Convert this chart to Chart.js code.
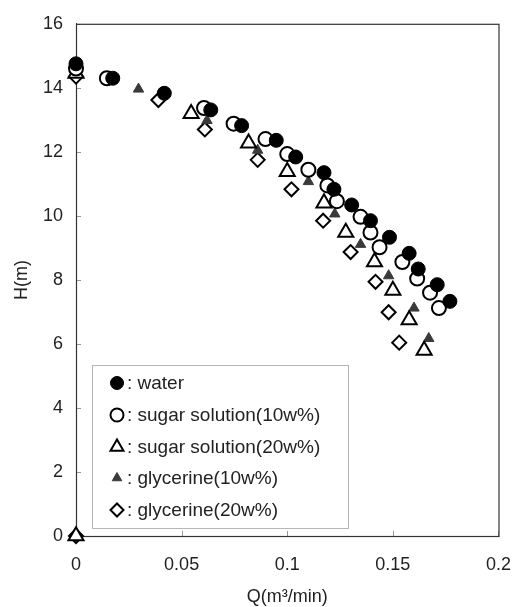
<!DOCTYPE html>
<html>
<head>
<meta charset="utf-8">
<script src="https://cdn.jsdelivr.net/npm/chart.js@4/dist/chart.umd.min.js"></script>
<style>
  html, body { margin: 0; padding: 0; background: #fff; }
  #wrap { width: 529px; height: 607px; position: relative; }
</style>
</head>
<body>
<div id="wrap"><canvas id="c" width="529" height="607"></canvas></div>
<script>
// ---- data ----
const seriesNames = [": water", ": sugar solution(10w%)", ": sugar solution(20w%)", ": glycerine(10w%)", ": glycerine(20w%)"];

const waterQ = [0, 0.0174, 0.0418, 0.0638, 0.0784, 0.0948, 0.104, 0.1174, 0.1221, 0.1305, 0.1394, 0.1484, 0.1577, 0.162, 0.171, 0.177];
const waterH = [14.75, 14.3, 13.83, 13.31, 12.82, 12.36, 11.84, 11.35, 10.83, 10.34, 9.85, 9.33, 8.83, 8.34, 7.85, 7.33];

const sugar10Q = [0, 0.0146, 0.0606, 0.0746, 0.0897, 0.1, 0.110, 0.119, 0.1235, 0.1347, 0.1394, 0.1437, 0.1545, 0.1615, 0.1676, 0.1718];
const sugar10H = [14.6, 14.3, 13.37, 12.88, 12.4, 11.93, 11.44, 10.95, 10.46, 9.97, 9.48, 9.02, 8.56, 8.04, 7.6, 7.12];

const sugar20Q = [0, 0, 0.0545, 0.0817, 0.1, 0.1174, 0.1277, 0.1413, 0.150, 0.1577, 0.1648];
const sugar20H = [0, 14.45, 13.19, 12.27, 11.38, 10.4, 9.48, 8.56, 7.67, 6.75, 5.8];

const glyc10Q = [0, 0, 0.0296, 0.062, 0.086, 0.110, 0.1225, 0.1347, 0.148, 0.160, 0.167];
const glyc10H = [0, 14.5, 13.96, 12.98, 12.05, 11.07, 10.06, 9.11, 8.13, 7.12, 6.17];

const glyc20Q = [0, 0, 0.039, 0.061, 0.086, 0.102, 0.117, 0.130, 0.1418, 0.148, 0.153];
const glyc20H = [0, 14.35, 13.62, 12.7, 11.75, 10.83, 9.85, 8.87, 7.94, 6.99, 6.04];

const xTickValues = [0, 0.05, 0.1, 0.15, 0.2];
const xTickLabels = ["0", "0.05", "0.1", "0.15", "0.2"];
const yTickValues = [0, 2, 4, 6, 8, 10, 12, 14, 16];
const xTitle = "Q(m\u00B3/min)";
const yTitle = "H(m)";

// ---- build ----
function pts(qs, hs) { return qs.map((q, i) => ({ x: q, y: hs[i] })); }

const FONT = "'Liberation Sans', Arial, sans-serif";
const styles = [
  { pointStyle: 'circle',   radius: 7,   bg: '#000', border: '#000', bw: 1 },
  { pointStyle: 'circle',   radius: 7,   bg: '#fff', border: '#000', bw: 2 },
  { pointStyle: 'triangle', radius: 8.7, bg: '#fff', border: '#000', bw: 2 },
  { pointStyle: 'triangle', radius: 6,   bg: '#3a3a3a', border: '#3a3a3a', bw: 1 },
  { pointStyle: 'rectRot',  radius: 7,   bg: '#fff', border: '#000', bw: 2 }
];
const allData = [pts(waterQ, waterH), pts(sugar10Q, sugar10H), pts(sugar20Q, sugar20H), pts(glyc10Q, glyc10H), pts(glyc20Q, glyc20H)];

const datasets = allData.map((d, i) => ({
  label: seriesNames[i],
  data: d,
  showLine: false,
  clip: false,
  pointStyle: styles[i].pointStyle,
  pointRadius: styles[i].radius,
  pointBackgroundColor: styles[i].bg,
  pointBorderColor: styles[i].border,
  pointBorderWidth: styles[i].bw
}));

const framePlugin = {
  id: 'frame',
  beforeDatasetsDraw(chart) {
    const { ctx, chartArea: a, scales } = chart;
    ctx.save();
    ctx.strokeStyle = '#999';
    ctx.lineWidth = 1;
    xTickValues.forEach(v => {
      const px = Math.round(scales.x.getPixelForValue(v)) + 0.5;
      ctx.beginPath(); ctx.moveTo(px, a.bottom); ctx.lineTo(px, a.bottom - 5); ctx.stroke();
    });
    yTickValues.forEach(v => {
      const py = Math.round(scales.y.getPixelForValue(v)) + 0.5;
      ctx.beginPath(); ctx.moveTo(a.left, py); ctx.lineTo(a.left + 5, py); ctx.stroke();
    });
    ctx.strokeStyle = '#333';
    ctx.lineWidth = 1.2;
    ctx.strokeRect(a.left + 0.5, a.top + 0.5, a.right - a.left, a.bottom - a.top);
    ctx.restore();
  }
};

const legendPlugin = {
  id: 'boxLegend',
  beforeDatasetsDraw(chart) {
    const { ctx } = chart;
    const box = { l: 92, t: 365, r: 348, b: 528 };
    ctx.save();
    ctx.fillStyle = '#fff';
    ctx.fillRect(box.l, box.t, box.r - box.l, box.b - box.t);
    ctx.strokeStyle = '#b5b5b5';
    ctx.lineWidth = 1;
    ctx.strokeRect(box.l + 0.5, box.t + 0.5, box.r - box.l, box.b - box.t);
    const rowY = [383, 415, 447, 478, 510];
    const mx = 117;
    ctx.font = '19px ' + FONT;
    ctx.textBaseline = 'middle';
    ctx.textAlign = 'left';
    seriesNames.forEach((name, i) => {
      const s = styles[i];
      ctx.fillStyle = s.bg;
      ctx.strokeStyle = s.border;
      ctx.lineWidth = s.bw;
      const r = i === 2 ? 7.5 : (i === 3 ? 5.5 : 6.5);
      Chart.helpers.drawPoint(ctx, { pointStyle: s.pointStyle, radius: r, rotation: 0, borderWidth: s.bw }, mx, rowY[i]);
      ctx.fillStyle = '#222';
      ctx.fillText(name, 127, rowY[i] + 1);
    });
    ctx.restore();
  }
};

new Chart(document.getElementById('c'), {
  type: 'scatter',
  data: { datasets },
  options: {
    responsive: false,
    animation: false,
    events: [],
    layout: { padding: { top: 14, right: 27, left: 0, bottom: 0 } },
    plugins: { legend: { display: false }, tooltip: { enabled: false } },
    scales: {
      x: {
        type: 'linear', min: 0, max: 0.2,
        afterBuildTicks(s) { s.ticks = xTickValues.map(v => ({ value: v })); },
        afterFit(s) { s.height = 71; },
        grid: { display: false, drawTicks: false },
        border: { display: true, color: '#333', width: 1 },
        ticks: {
          padding: 18, color: '#222', font: { family: FONT, size: 18 },
          callback(v) { const i = xTickValues.indexOf(v); return i >= 0 ? xTickLabels[i] : ''; }
        },
        title: { display: true, text: xTitle, color: '#222', font: { family: FONT, size: 18, lineHeight: 1.1 }, padding: { top: 0, bottom: 0 } }
      },
      y: {
        type: 'linear', min: 0, max: 16,
        afterBuildTicks(s) { s.ticks = yTickValues.map(v => ({ value: v })); },
        afterFit(s) { s.width = 76; },
        grid: { display: false, drawTicks: false },
        border: { display: true, color: '#333', width: 1 },
        ticks: { padding: 13, color: '#222', font: { family: FONT, size: 18 } },
        title: { display: true, text: yTitle, color: '#222', font: { family: FONT, size: 18 }, padding: { top: 11, bottom: 0 } }
      }
    }
  },
  plugins: [framePlugin, legendPlugin]
});
</script>
</body>
</html>
